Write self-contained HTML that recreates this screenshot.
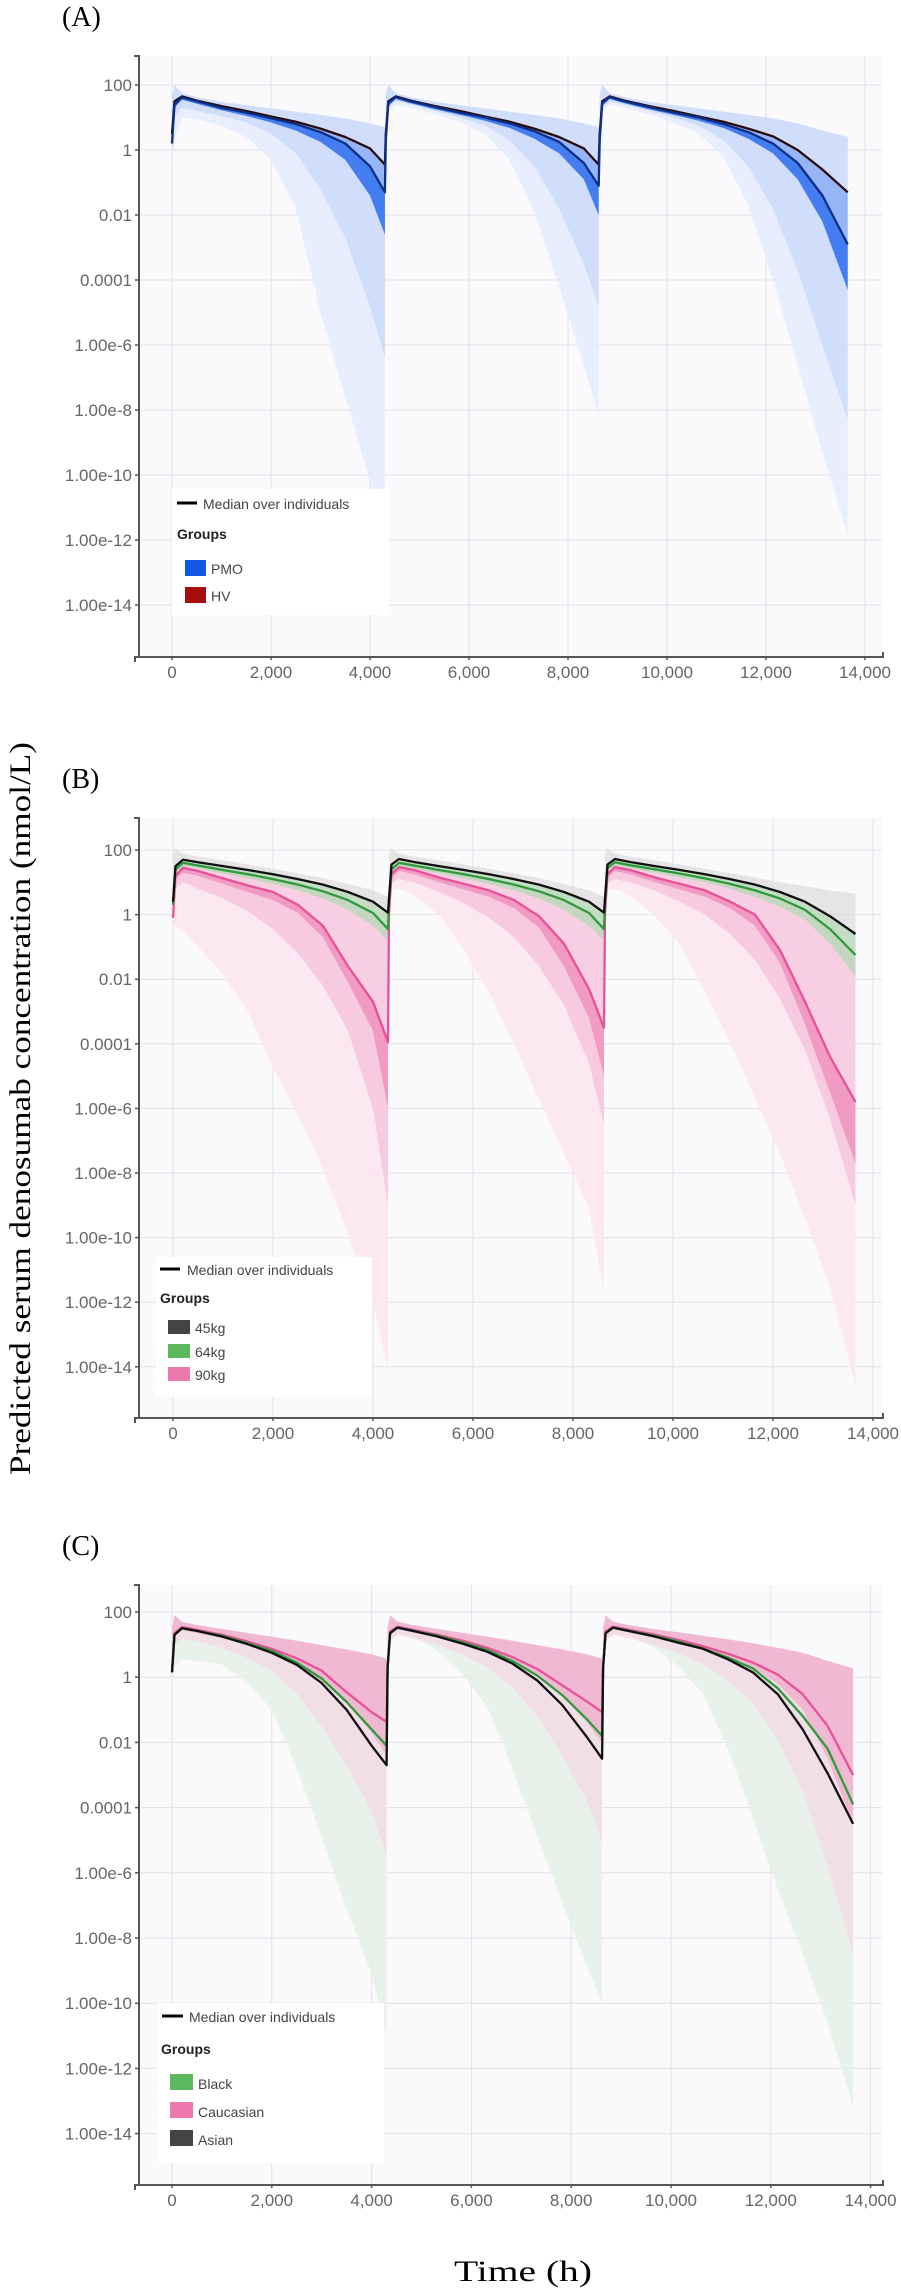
<!DOCTYPE html>
<html>
<head>
<meta charset="utf-8">
<style>
  html,body{margin:0;padding:0;background:#fff;}
  svg{display:block;}
  .tick{font-family:"Liberation Sans",Arial,sans-serif;font-size:17px;fill:#666;}
  .leg{font-family:"Liberation Sans",Arial,sans-serif;font-size:14px;fill:#444;}
  .legb{font-family:"Liberation Sans",Arial,sans-serif;font-size:14px;font-weight:bold;fill:#222;}
  .ser{font-family:"Liberation Serif","Times New Roman",serif;fill:#000;}
</style>
</head>
<body>
<svg id="fig" width="901" height="2294" viewBox="0 0 901 2294" xmlns="http://www.w3.org/2000/svg">
  <text class="ser" x="62" y="26" font-size="28">(A)</text>
  <text class="ser" x="62" y="788" font-size="28">(B)</text>
  <text class="ser" x="62" y="1555" font-size="28">(C)</text>
  <text class="ser" font-size="30" textLength="733" lengthAdjust="spacingAndGlyphs" transform="translate(30,1475) rotate(-90)">Predicted serum denosumab concentration (nmol/L)</text>
  <text class="ser" x="454" y="2281" font-size="30" textLength="138" lengthAdjust="spacingAndGlyphs">Time (h)</text>
  <g id="panelA"></g>
  <g id="panelB"></g>
  <g id="panelC"></g>

  <g>
    <rect x="172" y="489" width="217" height="126" fill="#fff"/>
    <line x1="177" y1="503" x2="197" y2="503" stroke="#000" stroke-width="3"/>
    <text class="leg" x="203" y="509">Median over individuals</text>
    <text class="legb" x="177" y="539">Groups</text>
    <rect x="185" y="560" width="21" height="16" fill="#1458e6"/>
    <text class="leg" x="211" y="574">PMO</text>
    <rect x="185" y="587" width="21" height="16" fill="#a60d0d"/>
    <text class="leg" x="211" y="601">HV</text>
  </g>
  <g>
    <rect x="156" y="1257" width="216" height="140" fill="#fff"/>
    <line x1="160" y1="1269" x2="180" y2="1269" stroke="#000" stroke-width="3"/>
    <text class="leg" x="187" y="1275">Median over individuals</text>
    <text class="legb" x="160" y="1303">Groups</text>
    <rect x="168" y="1320" width="22" height="14" fill="#444"/>
    <text class="leg" x="195" y="1333">45kg</text>
    <rect x="168" y="1344" width="22" height="14" fill="#5cb85c"/>
    <text class="leg" x="195" y="1357">64kg</text>
    <rect x="168" y="1367" width="22" height="14" fill="#ee78ae"/>
    <text class="leg" x="195" y="1380">90kg</text>
  </g>
  <g>
    <rect x="157" y="2003" width="227" height="160" fill="#fff"/>
    <line x1="162" y1="2016" x2="183" y2="2016" stroke="#000" stroke-width="3"/>
    <text class="leg" x="189" y="2022" font-size="15">Median over individuals</text>
    <text class="legb" x="161" y="2054" font-size="15">Groups</text>
    <rect x="170" y="2074" width="23" height="16" fill="#5cb85c"/>
    <text class="leg" x="198" y="2089" font-size="16">Black</text>
    <rect x="170" y="2102" width="23" height="16" fill="#ee78ae"/>
    <text class="leg" x="198" y="2117" font-size="16">Caucasian</text>
    <rect x="170" y="2130" width="23" height="16" fill="#444"/>
    <text class="leg" x="198" y="2145" font-size="16">Asian</text>
  </g>
</svg>
<script>
const timeH = [0,50,200,500,1000,1500,2000,2500,3000,3500,4000,4300,
  4320,4370,4520,4820,5320,5820,6320,6820,7320,7820,8320,8620,
  8640,8690,8840,9140,9640,10140,10640,11140,11640,12140,12640,13140,13650];
const cycles = [[0,12],[12,24],[24,37]];
const xTicks = [0,2000,4000,6000,8000,10000,12000,14000];
const xTickLabels = ["0","2,000","4,000","6,000","8,000","10,000","12,000","14,000"];
const yTicksLog = [2,0,-2,-4,-6,-8,-10,-12,-14];
const yTickLabels = ["100","1","0.01","0.0001","1.00e-6","1.00e-8","1.00e-10","1.00e-12","1.00e-14"];

const aPmoMedian = [0.2,1.4,1.62,1.5,1.3,1.15,0.98,0.8,0.55,0.2,-0.5,-1.3, 0.3,1.45,1.63,1.5,1.32,1.15,1.0,0.82,0.58,0.25,-0.4,-1.1, 0.3,1.45,1.63,1.5,1.32,1.15,1.0,0.8,0.55,0.2,-0.4,-1.4,-2.9];
const aHvMedian = [0.5,1.5,1.65,1.52,1.35,1.2,1.03,0.87,0.66,0.4,0.05,-0.45, 0.5,1.5,1.65,1.52,1.35,1.2,1.03,0.87,0.66,0.4,0.05,-0.45, 0.5,1.5,1.65,1.52,1.35,1.2,1.03,0.87,0.66,0.42,0.0,-0.6,-1.3];
const aUpper = [1.6,2.0,1.75,1.62,1.48,1.38,1.28,1.18,1.08,0.97,0.82,0.7, 1.7,2.0,1.75,1.62,1.48,1.38,1.28,1.18,1.08,0.97,0.82,0.7, 1.7,2.0,1.75,1.62,1.48,1.38,1.28,1.18,1.08,0.97,0.82,0.6,0.4];
const aLower1 = [-0.5,0.3,1.0,0.95,0.75,0.4,-0.3,-1.8,-5,-7.6,-10.2,-11.5, 0.3,1.2,1.4,1.3,1.1,0.85,0.5,-0.3,-1.9,-4.2,-6.6,-8.2, 0.3,1.2,1.4,1.3,1.1,0.85,0.5,-0.2,-1.7,-4.0,-6.6,-9.3,-11.8];
const aLower2 = [0,1.0,1.3,1.2,1.05,0.85,0.5,-0.1,-1.2,-2.7,-4.8,-6.4, 0.5,1.3,1.5,1.4,1.2,1.0,0.75,0.3,-0.5,-1.8,-3.5,-4.8, 0.5,1.3,1.5,1.4,1.2,1.0,0.75,0.3,-0.5,-1.8,-3.7,-6,-8.3];
const aLower3 = [0.1,1.3,1.55,1.42,1.22,1.05,0.85,0.6,0.25,-0.3,-1.4,-2.6, 0.2,1.35,1.57,1.44,1.25,1.08,0.9,0.68,0.35,-0.1,-0.9,-2.0, 0.2,1.35,1.57,1.44,1.25,1.08,0.9,0.68,0.35,-0.1,-0.9,-2.2,-4.3];

const b45Median = [0.4,1.5,1.7,1.62,1.5,1.38,1.25,1.1,0.93,0.7,0.4,0.06, 0.5,1.55,1.72,1.63,1.5,1.38,1.25,1.1,0.93,0.7,0.4,0.06, 0.5,1.55,1.72,1.63,1.5,1.38,1.25,1.1,0.93,0.7,0.4,-0.05,-0.6];
const b64Median = [0.3,1.4,1.6,1.52,1.38,1.25,1.1,0.93,0.72,0.45,0.05,-0.45, 0.4,1.4,1.6,1.52,1.38,1.25,1.1,0.93,0.72,0.45,0.05,-0.45, 0.4,1.45,1.62,1.53,1.4,1.27,1.12,0.95,0.75,0.5,0.15,-0.45,-1.25];
const b90Median = [-0.1,1.2,1.45,1.35,1.12,0.9,0.7,0.3,-0.35,-1.6,-2.7,-3.95, 0.0,1.25,1.47,1.38,1.15,0.95,0.75,0.45,-0.05,-0.9,-2.3,-3.5, 0.0,1.25,1.47,1.38,1.15,0.95,0.75,0.4,0.0,-1.1,-2.7,-4.4,-5.8];
const bUpper = [1.9,2.06,1.88,1.8,1.68,1.55,1.42,1.28,1.12,0.95,0.75,0.55, 1.9,2.06,1.88,1.8,1.68,1.55,1.42,1.28,1.12,0.95,0.75,0.55, 1.9,2.06,1.88,1.8,1.68,1.55,1.42,1.28,1.15,1.0,0.88,0.75,0.65];
const bGreenLower = [0.2,1.3,1.5,1.42,1.28,1.12,0.95,0.75,0.5,0.15,-0.35,-0.8, 0.3,1.3,1.5,1.42,1.28,1.12,0.95,0.75,0.5,0.15,-0.35,-0.8, 0.3,1.35,1.52,1.43,1.3,1.15,1.0,0.8,0.55,0.25,-0.15,-0.9,-1.9];
const bLower1 = [-0.33,-0.35,-0.5,-1.0,-1.85,-3.0,-4.75,-6.2,-7.85,-9.9,-12.0,-14.1, 0.5,0.8,0.8,0.6,0.0,-1.1,-2.4,-4.0,-5.7,-7.4,-9.1,-11.7, 0.5,0.8,0.8,0.6,-0.05,-0.9,-2.4,-3.95,-5.65,-7.4,-9.4,-11.5,-14.6];
const bLower2 = [-0.2,0.8,1.0,0.8,0.5,0.1,-0.45,-1.2,-2.2,-3.6,-6.0,-9.0, 0.2,1.0,1.1,1.0,0.7,0.35,-0.1,-0.7,-1.6,-2.8,-4.6,-6.5, 0.2,1.0,1.1,1.0,0.75,0.4,0.0,-0.6,-1.4,-2.6,-4.2,-6.3,-9.0];
const bLower3 = [-0.1,1.1,1.3,1.2,0.95,0.7,0.45,0.05,-0.7,-2.1,-3.6,-6.0, 0,1.15,1.35,1.25,1.0,0.78,0.55,0.2,-0.4,-1.6,-3.2,-5.0, 0,1.15,1.35,1.25,1.0,0.78,0.55,0.2,-0.35,-1.5,-3.4,-5.5,-7.7];

const cCaucMedian = [0.15,1.35,1.54,1.45,1.3,1.1,0.87,0.58,0.2,-0.46,-1.07,-1.37, 0.3,1.4,1.55,1.46,1.3,1.12,0.9,0.62,0.25,-0.25,-0.75,-1.07, 0.3,1.4,1.55,1.46,1.32,1.15,0.95,0.72,0.45,0.08,-0.52,-1.5,-3.0];
const cBlackMedian = [0.15,1.3,1.5,1.42,1.27,1.05,0.81,0.45,-0.04,-0.76,-1.6,-2.1, 0.3,1.35,1.52,1.43,1.27,1.07,0.83,0.5,0.05,-0.55,-1.3,-1.8, 0.3,1.35,1.52,1.43,1.28,1.1,0.88,0.6,0.27,-0.34,-1.19,-2.2,-3.9];
const cAsianMedian = [0.15,1.3,1.5,1.42,1.25,1.02,0.75,0.38,-0.18,-1.0,-2.1,-2.7, 0.3,1.35,1.52,1.42,1.25,1.03,0.78,0.42,-0.1,-0.85,-1.85,-2.5, 0.3,1.35,1.52,1.42,1.26,1.06,0.87,0.55,0.15,-0.52,-1.6,-2.95,-4.5];
const cUpper = [1.5,1.9,1.7,1.6,1.48,1.36,1.24,1.12,0.98,0.85,0.7,0.57, 1.5,1.9,1.7,1.6,1.48,1.36,1.24,1.12,0.98,0.85,0.7,0.57, 1.5,1.9,1.7,1.6,1.48,1.38,1.27,1.16,1.04,0.9,0.75,0.5,0.27];
const cLower1 = [-0.3,0.3,0.55,0.5,0.39,-0.16,-1.0,-2.8,-4.9,-7.1,-9.1,-11.0, 0.5,1.2,1.35,1.3,0.8,0.1,-0.9,-2.8,-4.9,-6.9,-8.9,-10.0, 0.5,1.2,1.35,1.3,0.93,0.33,-0.5,-2.2,-4.3,-6.5,-8.5,-10.6,-13.2];
const cPinkLower1 = [0,1.0,1.2,1.1,0.9,0.6,0.2,-0.5,-1.5,-2.7,-4.1,-5.5, 0.2,1.1,1.3,1.2,1.0,0.7,0.3,-0.3,-1.2,-2.4,-3.8,-5.0, 0.2,1.1,1.3,1.2,1.0,0.75,0.4,-0.1,-0.8,-1.9,-3.5,-5.8,-8.5];
const cPinkLower2 = [0.1,1.25,1.45,1.35,1.2,1.0,0.75,0.4,-0.1,-0.8,-1.7,-2.4, 0.25,1.3,1.47,1.38,1.22,1.03,0.8,0.48,0.05,-0.55,-1.4,-2.0, 0.25,1.3,1.47,1.38,1.23,1.06,0.86,0.6,0.3,-0.2,-1.0,-2.5,-4.5];

const NS = "http://www.w3.org/2000/svg";
function mk(tag, attrs, parent){
  const e = document.createElementNS(NS, tag);
  for (const k in attrs) e.setAttribute(k, attrs[k]);
  parent.appendChild(e);
  return e;
}

function drawPanel(id, cfg){
  const g = document.getElementById(id);
  const xS = t => cfg.x0 + t*cfg.pxh;
  const yS = l => cfg.y100 - (l-2)*cfg.ppd;
  const bg = mk('rect',{x:140,y:cfg.top,width:cfg.right-140,height:cfg.bottom-cfg.top,fill:'#fafafc'},g);
  
  
  xTicks.forEach(t=>{
    const l = mk('line',{x1:xS(t),x2:xS(t),y1:cfg.top,y2:cfg.bottom,stroke:'#e2e2e8','stroke-width':1},g);
    
    
  });
  yTicksLog.forEach(v=>{
    const l = mk('line',{x1:140,x2:cfg.right,y1:yS(v),y2:yS(v),stroke:'#e2e2e8','stroke-width':1},g);
    
    
  });
  const cid = id+'-clip';
  const cp = mk('clipPath',{id:cid},g);
  mk('rect',{x:140,y:cfg.top,width:cfg.right-140,height:cfg.bottom-cfg.top},cp);
  const dg = mk('g',{'clip-path':'url(#'+cid+')'},g);
  
  
  cfg.bands.forEach(b=>{
    cycles.forEach(([s,e])=>{
      let pts=[];
      for(let i=s;i<e;i++) pts.push(xS(timeH[i]).toFixed(1)+','+yS(b.up[i]).toFixed(1));
      for(let i=e-1;i>=s;i--) pts.push(xS(timeH[i]).toFixed(1)+','+yS(b.lo[i]).toFixed(1));
      const p = mk('polygon',{points:pts.join(' '),fill:b.fill,'fill-opacity':b.op},dg);
      
      
    });
  });
  cfg.lines.forEach(ln=>{
    let d='';
    for(let i=0;i<timeH.length;i++) d+=(i?'L':'M')+xS(timeH[i]).toFixed(1)+' '+yS(ln.v[i]).toFixed(1);
    const p = mk('path',{d:d,fill:'none',stroke:ln.color,'stroke-width':2.3,'stroke-linejoin':'round'},dg);
    
    
  });
  const ya = mk('path',{d:`M134 ${cfg.top} H139 V${cfg.bottom}`,fill:'none',stroke:'#555','stroke-width':2},g);
  
  
  const xa = mk('path',{d:`M135 ${cfg.bottom+5} V${cfg.bottom} H${cfg.right+1} V${cfg.bottom-5}`,fill:'none',stroke:'#555','stroke-width':2},g);
  
  
  yTicksLog.forEach((v,i)=>{
    const tk = mk('line',{x1:135,x2:139,y1:yS(v),y2:yS(v),stroke:'#555','stroke-width':1.5},g);
    
    
    const t = mk('text',{x:132,y:yS(v)+6,'text-anchor':'end',class:'tick'},g);
    t.textContent = yTickLabels[i];
    
    
  });
  xTicks.forEach((v,i)=>{
    const tk = mk('line',{x1:xS(v),x2:xS(v),y1:cfg.bottom,y2:cfg.bottom+3,stroke:'#555','stroke-width':1.5},g);
    
    
    const t = mk('text',{x:xS(v),y:cfg.bottom+21,'text-anchor':'middle',class:'tick'},g);
    t.textContent = xTickLabels[i];
    
    
  });
}

drawPanel('panelA',{x0:172,pxh:0.0495,y100:85,ppd:32.5,top:56,bottom:657,right:882,
  bands:[
    {up:aUpper,lo:aLower1,fill:'#e4ebfd',op:0.85,name:'pmo-band-outer'},
    {up:aUpper,lo:aLower2,fill:'#c6d6f9',op:0.7,name:'pmo-band-mid'},
    {up:aHvMedian,lo:aLower3,fill:'#7ea4f3',op:0.7,name:'pmo-band-inner'},
    {up:aPmoMedian,lo:aLower3,fill:'#2f6fee',op:0.8,name:'pmo-band-core'}
  ],
  lines:[
    {v:aHvMedian,color:'#2a0b0b',name:'hv-median-line'},
    {v:aPmoMedian,color:'#0c2f88',name:'pmo-median-line'}
  ]});

drawPanel('panelB',{x0:173,pxh:0.05,y100:850,ppd:32.3,top:818,bottom:1418,right:882,
  bands:[
    {up:b90Median,lo:bLower1,fill:'#fce6f0',op:0.9,name:'kg90-band-outer'},
    {up:b64Median,lo:bLower2,fill:'#f7c0d9',op:0.75,name:'kg90-band-mid'},
    {up:b90Median,lo:bLower3,fill:'#ee86b6',op:0.7,name:'kg90-band-inner'},
    {up:bUpper,lo:bGreenLower,fill:'#dcdcdc',op:0.7,name:'kg45-band'},
    {up:b45Median,lo:bGreenLower,fill:'#a8d6a8',op:0.55,name:'kg64-band'}
  ],
  lines:[
    {v:b90Median,color:'#e8509a',name:'kg90-median-line'},
    {v:b64Median,color:'#2e9a3a',name:'kg64-median-line'},
    {v:b45Median,color:'#111111',name:'kg45-median-line'}
  ]});

drawPanel('panelC',{x0:172,pxh:0.0499,y100:1612,ppd:32.6,top:1585,bottom:2185,right:882,
  bands:[
    {up:cUpper,lo:cLower1,fill:'#e6efe8',op:0.9,name:'black-asian-band-outer'},
    {up:cUpper,lo:cPinkLower1,fill:'#f7d6e5',op:0.7,name:'caucasian-band-mid'},
    {up:cUpper,lo:cPinkLower2,fill:'#ef8ab9',op:0.45,name:'caucasian-band-inner'}
  ],
  lines:[
    {v:cCaucMedian,color:'#e8509a',name:'caucasian-median-line'},
    {v:cBlackMedian,color:'#2e9a3a',name:'black-median-line'},
    {v:cAsianMedian,color:'#111111',name:'asian-median-line'}
  ]});
</script>
</body>
</html>
